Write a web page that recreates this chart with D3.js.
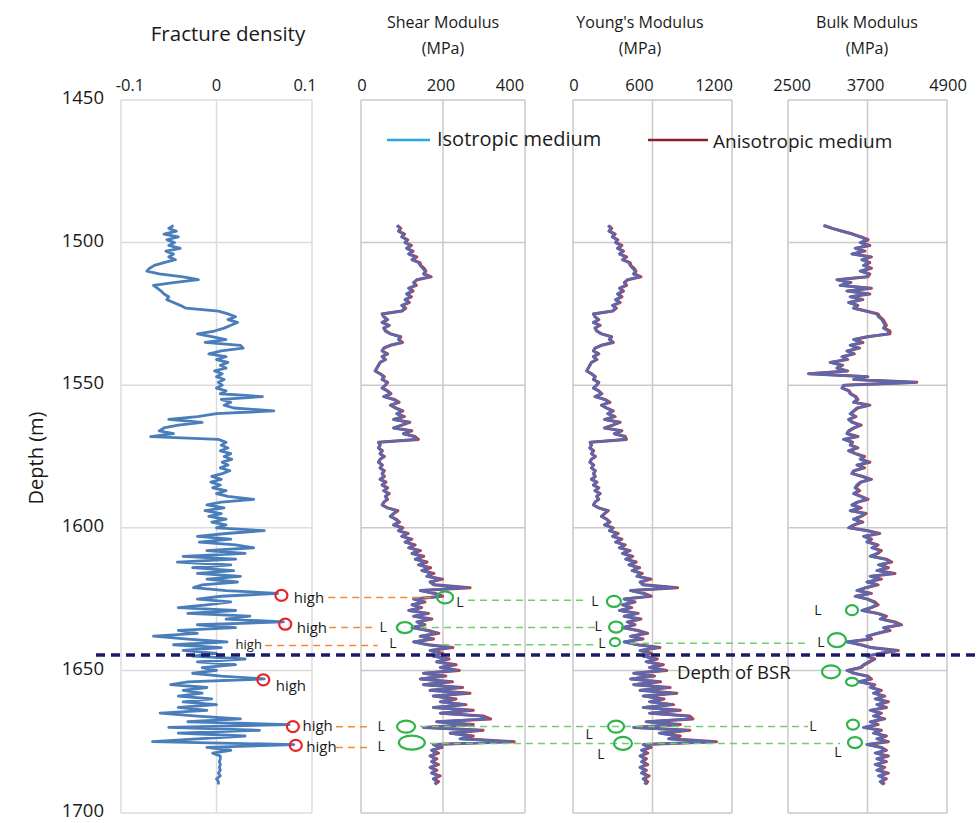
<!DOCTYPE html>
<html>
<head>
<meta charset="utf-8">
<script src="https://cdnjs.cloudflare.com/ajax/libs/d3/7.8.5/d3.min.js"></script>
<style>
  body { margin: 0; background: #fff; }
  text { font-family: "Open Sans", sans-serif; fill: #1a1a1a; }
</style>
</head>
<body>
<script>

// depth samples (m), one per metre
var depths = d3.range(1494, 1691);

// fracture density
var fracture = [
  -0.045,-0.05,-0.042,-0.055,-0.04,-0.052,-0.044,-0.05,-0.038,-0.053,
  -0.045,-0.05,-0.043,-0.055,-0.065,-0.07,-0.073,-0.06,-0.035,-0.019,
  -0.045,-0.066,-0.062,-0.058,-0.055,-0.05,-0.052,-0.045,-0.038,-0.032,
  0.002,0.012,0.02,0.012,0.022,0.015,0.008,-0.002,-0.02,-0.005,
  0.01,-0.012,0.025,0.028,0.005,-0.008,0.01,0,0.012,0.004,
  0.01,-0.002,0.006,0,0.008,0.002,0.006,0,0.01,0.004,
  0.048,0.005,0.015,0.008,0.018,0.06,0,-0.02,-0.05,-0.015,
  -0.04,-0.055,-0.06,-0.045,-0.069,0.002,0.01,0.005,0.012,0.004,
  0.015,0.008,0.016,0.006,0.012,0.004,0.014,0.006,-0.005,0.005,
  -0.006,0.004,-0.004,0.01,0,0.012,0.039,0.005,-0.01,0.008,
  -0.012,0.005,-0.008,0.01,-0.005,0.01,0,0.05,0.01,-0.02,
  0.015,-0.018,0.02,0.039,-0.01,0.03,-0.035,0.02,-0.041,0.015,
  -0.025,0.018,-0.02,0.025,-0.01,0.022,-0.015,-0.024,0.01,0.064,
  0.005,-0.02,0.015,-0.01,-0.04,0.02,-0.03,0.035,0.01,0.07,
  -0.02,0.02,-0.04,-0.02,-0.066,-0.03,0.011,-0.045,0.005,-0.035,
  0,-0.025,0.03,-0.02,0.02,-0.015,0,-0.025,0.005,0.05,
  -0.03,-0.048,-0.01,-0.035,-0.015,-0.04,-0.005,-0.035,0,-0.04,
  -0.01,-0.059,-0.02,0.025,-0.03,0.076,-0.05,0.045,-0.04,0.03,
  -0.02,-0.067,0.081,-0.01,0.015,-0.004,0.004,0.004,0.003,0.004,
  0.003,0.004,0.002,0.004,0,0.002,0.002
];

// shear modulus (MPa)
var shearIso = [
  87,95,91,103,99,111,107,120,111,124,
  116,132,124,140,144,150,156,152,167,136,
  128,132,116,124,111,120,107,116,99,107,
  99,51,55,63,51,67,55,59,71,95,
  91,99,71,55,51,63,51,59,46,42,
  38,34,46,55,51,63,59,51,63,71,
  55,79,91,71,83,99,87,103,79,116,
  99,79,120,103,128,136,42,46,42,51,
  46,55,46,42,51,46,55,51,55,46,
  59,51,63,55,67,59,63,55,51,63,
  87,79,71,83,91,79,99,91,111,99,
  120,107,128,116,140,124,148,132,156,140,
  164,148,172,160,193,168,176,258,144,176,
  193,128,152,124,144,116,160,128,168,136,
  152,124,160,184,144,172,128,160,217,168,
  193,176,209,184,225,193,233,152,201,144,
  217,152,241,168,258,176,225,193,249,176,
  266,193,290,307,184,266,152,290,217,266,
  241,364,176,193,172,184,168,180,172,184,
  168,180,172,188,176,184,180
];
var shearAniso = [
  89,97,92,106,100,114,108,123,112,127,
  117,136,125,144,146,154,158,155,171,137,
  129,135,117,127,112,123,108,118,100,109,
  100,52,56,65,52,69,56,61,72,97,
  93,101,72,56,52,65,52,60,47,43,
  39,35,47,57,52,65,60,52,65,73,
  56,82,93,72,86,102,88,106,80,119,
  100,80,124,104,132,140,43,47,43,52,
  47,57,47,43,52,47,57,52,57,47,
  61,52,65,56,69,60,65,56,52,65,
  90,80,72,86,94,80,102,92,115,100,
  124,108,132,117,145,125,153,133,161,141,
  170,149,178,161,199,169,181,266,145,181,
  199,129,156,125,148,117,165,129,173,137,
  156,125,165,190,145,177,129,165,224,169,
  199,177,215,185,232,194,240,153,207,145,
  223,153,248,169,266,177,232,194,256,177,
  274,194,299,316,185,274,153,298,218,274,
  248,374,177,198,173,189,169,185,173,189,
  169,185,173,193,177,189,181
];

// young's modulus (MPa)
var youngIso = [
  264,285,270,310,295,330,320,360,335,372,
  350,395,372,420,430,450,468,455,500,410,
  385,395,350,372,335,360,320,348,297,320,
  297,153,165,190,153,200,165,177,213,285,
  273,297,213,165,153,190,153,177,138,126,
  114,103,138,165,153,190,177,153,190,213,
  165,237,273,213,250,297,261,310,237,348,
  297,237,360,310,385,393,128,138,126,153,
  138,165,138,126,153,138,165,153,165,138,
  177,153,190,165,200,177,190,165,153,190,
  260,237,213,250,273,237,297,273,333,297,
  360,320,384,348,420,372,440,396,465,420,
  490,444,510,480,575,504,525,770,432,525,
  575,384,456,372,432,348,480,384,500,408,
  456,372,480,550,432,515,384,480,640,504,
  575,528,620,550,665,575,690,456,600,432,
  645,456,715,504,765,528,670,575,740,528,
  790,575,860,883,550,790,456,860,650,790,
  720,1057,528,575,516,550,504,540,516,550,
  504,540,516,560,528,550,540
];
var youngAniso = [
  270,292,274,318,299,338,324,369,340,381,
  355,405,377,431,437,461,475,466,513,415,
  390,404,355,381,340,369,324,356,301,327,
  301,156,167,195,155,205,167,181,216,292,
  279,304,216,167,155,195,155,181,140,128,
  116,105,140,169,155,195,180,155,195,218,
  167,243,279,216,256,304,265,318,240,356,
  301,240,369,314,395,403,130,140,128,156,
  140,169,140,128,156,140,169,156,169,140,
  181,155,195,167,205,180,195,167,155,195,
  267,240,216,256,280,240,304,277,341,301,
  369,325,394,353,431,377,451,402,477,426,
  503,450,523,487,590,511,538,790,438,538,
  590,389,468,377,443,353,492,389,513,414,
  468,377,492,564,438,528,389,492,656,511,
  590,535,636,558,682,583,707,462,615,438,
  661,462,733,511,784,535,687,583,759,535,
  810,583,882,905,558,810,462,882,666,810,
  738,1083,535,590,523,564,511,554,523,564,
  511,554,523,574,535,564,548
];

// bulk modulus (MPa)
var bulkIso = [
  3033,3158,3310,3460,3586,3687,3586,3712,3510,3636,
  3460,3737,3611,3712,3636,3737,3586,3712,3687,3234,
  3435,3284,3737,3385,3712,3435,3611,3410,3536,3486,
  3661,3838,3863,3913,3938,3963,3938,4014,4014,3687,
  3486,3611,3435,3561,3385,3486,3310,3385,3133,3310,
  3234,3385,2806,3687,3486,4416,3335,3310,3410,3435,
  3510,3536,3486,3712,3536,3486,3435,3510,3410,3460,
  3586,3486,3410,3385,3536,3335,3460,3435,3536,3410,
  3510,3636,3586,3712,3536,3636,3486,3460,3611,3737,
  3586,3536,3510,3561,3486,3586,3687,3536,3460,3586,
  3435,3661,3586,3486,3611,3486,3410,3687,3863,3636,
  3737,3687,3838,3762,3888,3838,3737,3963,4039,3863,
  3989,3838,4089,3737,3888,3687,3838,3661,3536,3737,
  3510,3687,3787,3838,3737,3611,3838,3963,3888,4089,
  4190,3938,4014,3838,3687,3737,3385,3586,3737,4139,
  3888,3687,3787,3712,3636,3586,3385,3486,3687,3737,
  3561,3787,3737,3888,3787,3938,3812,3989,3838,3963,
  3737,3888,3787,3938,3737,3838,3636,3888,3787,3963,
  3838,3989,3687,3888,3963,3812,3989,3838,3963,3812,
  3938,3838,3989,3863,3963,3888,3938
];
var bulkAniso = [
  3045,3170,3325,3480,3605,3710,3600,3735,3525,3660,
  3475,3760,3630,3735,3655,3760,3600,3735,3705,3245,
  3450,3295,3760,3400,3735,3450,3630,3425,3555,3500,
  3680,3860,3885,3935,3960,3985,3960,4040,4040,3705,
  3500,3630,3450,3580,3400,3500,3325,3400,3145,3325,
  3245,3400,2815,3705,3500,4445,3350,3325,3425,3450,
  3525,3555,3500,3735,3555,3500,3450,3525,3425,3475,
  3605,3500,3425,3400,3555,3350,3475,3450,3555,3425,
  3525,3655,3605,3735,3555,3655,3500,3475,3630,3760,
  3605,3555,3525,3580,3500,3605,3710,3555,3475,3605,
  3450,3680,3605,3500,3630,3500,3425,3710,3885,3655,
  3760,3705,3860,3785,3910,3860,3760,3985,4065,3885,
  4015,3860,4115,3760,3910,3705,3860,3680,3555,3760,
  3525,3705,3810,3860,3760,3630,3860,3985,3910,4115,
  4215,3960,4040,3860,3705,3760,3400,3605,3760,4165,
  3910,3705,3810,3735,3655,3605,3400,3500,3705,3760,
  3580,3810,3760,3910,3810,3960,3835,4015,3860,3985,
  3760,3910,3810,3960,3760,3860,3655,3910,3810,3985,
  3860,4015,3705,3910,3985,3835,4015,3860,3985,3835,
  3960,3860,4015,3885,3985,3910,3960
];

// axis ticks
var depthTicks = [1450, 1500, 1550, 1600, 1650, 1700];
var fracTicks = [-0.1, 0, 0.1];
var shearTicks = [0, 200, 400];
var youngTicks = [0, 600, 1200];
var bulkTicks = [2500, 3700, 4900];

// depth of the BSR
var bsrDepth = 1644.6;

// "high" fracture marks: [depth, value]
var highCircles = [[1623.7, 0.068], [1633.8, 0.072], [1653.3, 0.049], [1669.7, 0.080], [1676.3, 0.083]];
// "high" labels: [depth, value, small]
var highLabels = [[1624.4, 0.081, 0], [1635.0, 0.084, 0], [1640.8, 0.020, 1], [1655.4, 0.062, 0], [1669.3, 0.090, 0], [1676.6, 0.094, 0]];
// orange links from fracture panel to shear panel: [depth, fracture value, shear value]
var orangeLinks = [[1624.4, 0.117, 185], [1635.0, 0.118, 27], [1641.3, 0.051, 41], [1669.8, 0.125, 27], [1677.0, 0.125, 27]];
// green links: [depth, from panel, from value, to panel, to value]
var greenLinks = [
  [1625.4, "shear", 261, "young", 91],
  [1635.0, "shear", 144, "young", 166],
  [1641.0, "shear", 198, "young", 189],
  [1640.5, "young", 430, "bulk", 2832],
  [1669.7, "shear", 144, "bulk", 2802],
  [1675.6, "shear", 168, "bulk", 3285]
];
// green low-value circles: [panel, depth, value, rx, ry]
var lowCircles = [
  ["shear", 1624.4, 205, 8, 6], ["shear", 1635.0, 107, 8, 5.5], ["shear", 1669.7, 110, 9, 6], ["shear", 1675.3, 124, 13, 7],
  ["young", 1625.8, 309, 7, 5.5], ["young", 1634.8, 325, 7, 5.5], ["young", 1640.1, 317, 5, 4], ["young", 1669.7, 325, 8, 6], ["young", 1675.6, 377, 9, 6.5],
  ["bulk", 1628.9, 3466, 6, 5], ["bulk", 1639.4, 3239, 9, 7], ["bulk", 1650.5, 3149, 9, 6.5], ["bulk", 1654.0, 3466, 6, 4], ["bulk", 1669.0, 3481, 6, 5], ["bulk", 1675.3, 3511, 7, 5.5]
];
// "L" labels: [panel, depth, value]
var lowLabels = [
  ["shear", 1626.0, 241], ["shear", 1634.8, 54], ["shear", 1640.4, 78], ["shear", 1669.7, 49], ["shear", 1676.6, 49],
  ["young", 1625.8, 166], ["young", 1634.6, 189], ["young", 1640.4, 219], ["young", 1672.5, 121], ["young", 1679.4, 211],
  ["bulk", 1628.9, 2953], ["bulk", 1640.0, 2998], ["bulk", 1669.7, 2877], ["bulk", 1678.7, 3255]
];

window.onload = function(){
    drawChart()
};

function drawChart(){

    var svg = d3.select("body").append("svg").attr("width", 979).attr("height", 823);

    var yScale = d3.scaleLinear()
        .domain([1450, 1700])
        .range([100, 813]);

    // one track per log, with its own x scale
    var panels = {
        frac:  {scale: d3.scaleLinear().domain([-0.1, 0.1]).range([121, 312]), ticks: fracTicks,  shift: [9, 0, -7],  grid: "#dcdcdc"},
        shear: {scale: d3.scaleLinear().domain([0, 400]).range([361, 525]),     ticks: shearTicks, shift: [1, -2, -15], grid: "#c9c9c9"},
        young: {scale: d3.scaleLinear().domain([0, 1200]).range([573, 732]),    ticks: youngTicks, shift: [1, -13, -18], grid: "#c9c9c9"},
        bulk:  {scale: d3.scaleLinear().domain([2500, 4900]).range([788, 947]), ticks: bulkTicks,  shift: [4, -2, 1],  grid: "#c9c9c9"}
    };

    // grid boxes
    Object.keys(panels).forEach(function(key){
        var p = panels[key];
        var g = svg.append("g").attr("class", "grid-" + key);
        g.selectAll(".h")
            .data(depthTicks)
            .enter()
            .append("line")
            .attr("x1", p.scale.range()[0])
            .attr("x2", p.scale.range()[1])
            .attr("y1", function(d){ return yScale(d); })
            .attr("y2", function(d){ return yScale(d); })
            .attr("stroke", p.grid)
            .attr("stroke-width", 1.5);
        g.selectAll(".v")
            .data(p.ticks)
            .enter()
            .append("line")
            .attr("x1", function(d){ return p.scale(d); })
            .attr("x2", function(d){ return p.scale(d); })
            .attr("y1", yScale(1450))
            .attr("y2", yScale(1700))
            .attr("stroke", p.grid)
            .attr("stroke-width", 1.5);

        // tick labels on top
        g.selectAll(".tl")
            .data(p.ticks)
            .enter()
            .append("text")
            .attr("x", function(d, i){ return p.scale(d) + p.shift[i]; })
            .attr("y", 91)
            .style("text-anchor", "middle")
            .style("font-size", "16.5px")
            .text(function(d){ return d; });
    });

    // depth axis
    var yAxis = d3.axisLeft(yScale).tickValues(depthTicks).tickSize(0).tickPadding(0).tickFormat(d3.format("d"));
    var ya = svg.append("g")
        .attr("transform", "translate(104,0)")
        .call(yAxis);
    ya.select(".domain").remove();
    ya.selectAll("text")
        .attr("dy", "0.2em")
        .style("font-size", "18.5px")
        .style("font-family", "Open Sans, sans-serif")
        .attr("fill", "#1a1a1a");

    svg.append("text")
        .attr("transform", "rotate(-90)")
        .attr("x", -458)
        .attr("y", 43)
        .style("text-anchor", "middle")
        .style("font-size", "20px")
        .text("Depth (m)");

    // track titles
    svg.append("text").attr("x", 228).attr("y", 41).style("text-anchor", "middle").style("font-size", "20.5px").text("Fracture density");
    var titles = [["Shear Modulus", 443], ["Young's Modulus", 640], ["Bulk Modulus", 867]];
    titles.forEach(function(t){
        svg.append("text").attr("x", t[1]).attr("y", 28).style("text-anchor", "middle").style("font-size", "16px").text(t[0]);
        svg.append("text").attr("x", t[1]).attr("y", 54).style("text-anchor", "middle").style("font-size", "16px").text("(MPa)");
    });

    // curves
    function lineFor(scale, values){
        return d3.line()
            .x(function(d, i){ return scale(values[i]); })
            .y(function(d){ return yScale(d); })(depths);
    }

    svg.append("path")
        .attr("d", lineFor(panels.frac.scale, fracture))
        .attr("fill", "none")
        .attr("stroke", "#4a7ebb")
        .attr("stroke-width", 2.8)
        .attr("stroke-linejoin", "round");

    var moduli = [[panels.shear.scale, shearIso, shearAniso], [panels.young.scale, youngIso, youngAniso], [panels.bulk.scale, bulkIso, bulkAniso]];
    moduli.forEach(function(m){
        svg.append("path")
            .attr("d", lineFor(m[0], m[2]))
            .attr("fill", "none")
            .attr("stroke", "#b4404c")
            .attr("stroke-width", 3)
            .attr("stroke-linejoin", "round");
        svg.append("path")
            .attr("d", lineFor(m[0], m[1]))
            .attr("fill", "none")
            .attr("stroke", "#5b68ad")
            .attr("stroke-width", 2.6)
            .attr("stroke-linejoin", "round");
    });

    // legend
    svg.append("line").attr("x1", 387).attr("x2", 430).attr("y1", 140).attr("y2", 140).attr("stroke", "#2aa6e0").attr("stroke-width", 2.5);
    svg.append("text").attr("x", 437).attr("y", 146).style("font-size", "20px").text("Isotropic medium");
    svg.append("line").attr("x1", 648).attr("x2", 708).attr("y1", 140).attr("y2", 140).attr("stroke", "#8c1d2b").attr("stroke-width", 2.5);
    svg.append("text").attr("x", 713).attr("y", 148).style("font-size", "19px").text("Anisotropic medium");

    // orange dashed links
    svg.selectAll(".orange")
        .data(orangeLinks)
        .enter()
        .append("line")
        .attr("x1", function(d){ return panels.frac.scale(d[1]); })
        .attr("x2", function(d){ return panels.shear.scale(d[2]); })
        .attr("y1", function(d){ return yScale(d[0]); })
        .attr("y2", function(d){ return yScale(d[0]); })
        .attr("stroke", "#f28a30")
        .attr("stroke-width", 1.5)
        .attr("stroke-dasharray", "7,5");

    // green dashed links
    svg.selectAll(".green")
        .data(greenLinks)
        .enter()
        .append("line")
        .attr("x1", function(d){ return panels[d[1]].scale(d[2]); })
        .attr("x2", function(d){ return panels[d[3]].scale(d[4]); })
        .attr("y1", function(d){ return yScale(d[0]); })
        .attr("y2", function(d){ return yScale(d[0]); })
        .attr("stroke", "#6cd06c")
        .attr("stroke-width", 1.5)
        .attr("stroke-dasharray", "7,5");

    // BSR line
    svg.append("line")
        .attr("x1", 96).attr("x2", 979)
        .attr("y1", yScale(bsrDepth)).attr("y2", yScale(bsrDepth))
        .attr("stroke", "#1b1a66")
        .attr("stroke-width", 3.5)
        .attr("stroke-dasharray", "9,6");
    svg.append("text")
        .attr("x", 677)
        .attr("y", yScale(bsrDepth) + 24)
        .style("font-size", "18.5px")
        .text("Depth of BSR");

    // high markers
    svg.selectAll(".highc")
        .data(highCircles)
        .enter()
        .append("ellipse")
        .attr("cx", function(d){ return panels.frac.scale(d[1]); })
        .attr("cy", function(d){ return yScale(d[0]); })
        .attr("rx", 6)
        .attr("ry", 5.5)
        .attr("fill", "none")
        .attr("stroke", "#e8242c")
        .attr("stroke-width", 2.2);
    svg.selectAll(".highl")
        .data(highLabels)
        .enter()
        .append("text")
        .attr("x", function(d){ return panels.frac.scale(d[1]); })
        .attr("y", function(d){ return yScale(d[0]); })
        .attr("dy", "0.35em")
        .style("font-size", function(d){ return d[2] ? "13px" : "15px"; })
        .text("high");

    // low markers
    svg.selectAll(".lowc")
        .data(lowCircles)
        .enter()
        .append("ellipse")
        .attr("cx", function(d){ return panels[d[0]].scale(d[2]); })
        .attr("cy", function(d){ return yScale(d[1]); })
        .attr("rx", function(d){ return d[3]; })
        .attr("ry", function(d){ return d[4]; })
        .attr("fill", "none")
        .attr("stroke", "#2fb34b")
        .attr("stroke-width", 2.2);
    svg.selectAll(".lowl")
        .data(lowLabels)
        .enter()
        .append("text")
        .attr("x", function(d){ return panels[d[0]].scale(d[2]); })
        .attr("y", function(d){ return yScale(d[1]); })
        .attr("dy", "0.35em")
        .style("text-anchor", "middle")
        .style("font-size", "14px")
        .text("L");
}

</script>
</body>
</html>
